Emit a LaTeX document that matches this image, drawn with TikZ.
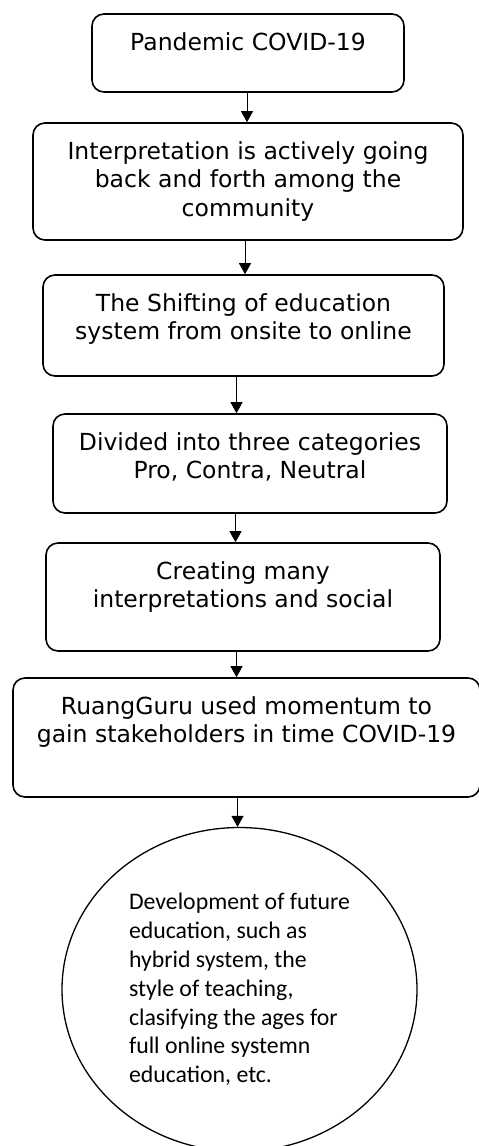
\documentclass[tikz,border=0pt]{standalone}
\usepackage{fontspec}
\setmainfont{DejaVu Sans}
\newfontfamily\calfont{Carlito}
\usetikzlibrary{arrows.meta,shapes,positioning}

\tikzset{
  stepbox/.style={draw, line width=1.6pt, rounded corners=12pt},
  boxtext/.style={anchor=north, align=center, inner sep=0pt,
    font=\fontsize{23.5pt}{28.5pt}\selectfont},
  arr/.style={-{Triangle[width=12pt,length=11pt]}, line width=0.9pt}
}

\begin{document}
\begin{tikzpicture}[x=1pt,y=-1pt]
  \useasboundingbox (0,0) rectangle (479,1146);

  % boxes
  \node[stepbox, minimum width=312pt, minimum height=78pt] (pandemic) at (248,53) {};
  \node[stepbox, minimum width=430pt, minimum height=117pt] (interp) at (248,181.5) {};
  \node[stepbox, minimum width=401pt, minimum height=101pt] (shift) at (243.5,325.5) {};
  \node[stepbox, minimum width=394pt, minimum height=99pt] (divided) at (250,463.5) {};
  \node[stepbox, minimum width=394pt, minimum height=108pt] (creating) at (243,597) {};
  \node[stepbox, minimum width=467pt, minimum height=119pt] (ruangguru) at (246.5,737.5) {};
  \node[draw, ellipse, line width=1.3pt, minimum width=355pt, minimum height=324pt,
        align=left, font=\calfont\fontsize{23.8pt}{28.8pt}\selectfont] (future) at (239.5,989.5)
        {Development of future\\education, such as\\hybrid system, the\\style of teaching,\\clasifying the ages for\\full online systemn\\education, etc.};

  % texts
  \node[boxtext, below=19pt of pandemic.north] (t1) {Pandemic COVID-19};
  \node[boxtext, below=19pt of interp.north] (t2) {Interpretation is actively going\\back and forth among the\\community};
  \node[boxtext, below=19pt of shift.north] (t3) {The Shifting of education\\system from onsite to online};
  \node[boxtext, below=19pt of divided.north] (t4) {Divided into three categories\\Pro, Contra, Neutral};
  \node[boxtext, below=19pt of creating.north] (t5) {Creating many\\interpretations and social};
  \node[boxtext, below=19pt of ruangguru.north] (t6) {RuangGuru used momentum to\\gain stakeholders in time COVID-19};

  % arrows
  \draw[arr] (pandemic.south -| 247,0) -- (interp.north -| 247,0);
  \draw[arr] (interp.south -| 245,0) -- (shift.north -| 245,0);
  \draw[arr] (shift.south -| 236.5,0) -- (divided.north -| 236.5,0);
  \draw[arr] (divided.south -| 235.5,0) -- (creating.north -| 235.5,0);
  \draw[arr] (creating.south -| 236.5,0) -- (ruangguru.north -| 236.5,0);
  \draw[arr] (ruangguru.south -| 237.5,0) -- (future.north -| 237.5,0);
\end{tikzpicture}
\end{document}
